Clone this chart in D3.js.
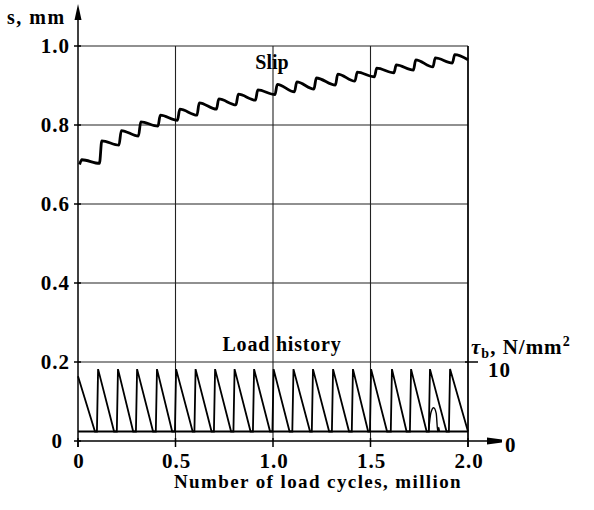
<!DOCTYPE html>
<html>
<head>
<meta charset="utf-8">
<script src="https://cdn.jsdelivr.net/npm/d3@7"></script>
<style>
  body { margin: 0; background: #fff; }
  svg { display: block; font-family: "Liberation Serif", "Times New Roman", serif; font-weight: bold; }
</style>
</head>
<body>
<svg width="594" height="510"></svg>
<script>
// Slip and load history vs. number of load cycles
const SVG = d3.select('svg');
const LEFT = 78, RIGHT = 468, TOP = 46, BOTTOM = 441;

// slip ticks (left axis) and cycle ticks (bottom axis)
const slipTicks = [0, 0.2, 0.4, 0.6, 0.8, 1.0];
const cycleTicks = [0, 0.5, 1.0, 1.5, 2.0];
const loadTicks = [0, 10];

// slip curve: start, then for each reload a trough before and a peak after the jump
const slipStart = [[0.008, 0.700], [0.02, 0.712]];
const slipJumpX = [0.11, 0.21, 0.31, 0.41, 0.51, 0.61, 0.71, 0.81, 0.91, 1.01, 1.11, 1.21, 1.32, 1.42, 1.52, 1.62, 1.72, 1.82, 1.92];
const slipBefore = [0.703, 0.749, 0.772, 0.797, 0.812, 0.825, 0.840, 0.851, 0.863, 0.877, 0.884, 0.891, 0.901, 0.911, 0.922, 0.932, 0.939, 0.947, 0.957];
const slipAfter = [0.760, 0.786, 0.808, 0.825, 0.840, 0.856, 0.866, 0.878, 0.889, 0.903, 0.909, 0.919, 0.929, 0.934, 0.944, 0.952, 0.965, 0.970, 0.978];
const slipEnd = [2.0, 0.965];

// load history (right axis, N/mm2)
const loadStart = [[0, 8.2], [0.087, 1.2]];
const loadPeakX = [0.103, 0.205, 0.303, 0.405, 0.503, 0.603, 0.703, 0.803, 0.903, 1.003, 1.105, 1.205, 1.308, 1.41, 1.503, 1.61, 1.708, 1.805, 1.908];
const loadPeak = [9.1, 9.1, 9.1, 9.1, 9.1, 9.1, 9.1, 9.1, 9.1, 9.1, 9.1, 9.1, 9.1, 9.1, 9.1, 9.1, 9.1, 9.1, 9.1];
const loadLowX = [0.185, 0.283, 0.385, 0.483, 0.588, 0.685, 0.785, 0.885, 0.985, 1.085, 1.19, 1.288, 1.39, 1.488, 1.585, 1.685, 1.788, 1.89, 2.0];
const loadMin = 1.2;
const loadHump = [[1.798, 1.2], [1.810, 3.6], [1.824, 4.2], [1.837, 3.5], [1.845, 1.2], [1.850, 1.7], [1.853, 1.2]];

const x = d3.scaleLinear().domain([0, 2]).range([LEFT, RIGHT]);
const yS = d3.scaleLinear().domain([0, 1]).range([BOTTOM, TOP]);
const yL = d3.scaleLinear().domain([0, 10]).range([BOTTOM, yS(0.2)]);

// grid
const grid = SVG.append('g').attr('stroke', '#222').attr('stroke-width', 1.1);
grid.selectAll('.h').data(slipTicks.slice(1)).enter().append('line')
    .attr('x1', LEFT).attr('x2', RIGHT)
    .attr('y1', d => yS(d)).attr('y2', d => yS(d));
grid.selectAll('.v').data(cycleTicks.slice(1)).enter().append('line')
    .attr('x1', d => x(d)).attr('x2', d => x(d))
    .attr('y1', BOTTOM).attr('y2', yS(1));

// axes
const axes = SVG.append('g').attr('stroke', '#000').attr('stroke-width', 1.5);
axes.append('line').attr('x1', LEFT).attr('x2', LEFT).attr('y1', BOTTOM + 6).attr('y2', 12);
axes.append('path').attr('d', `M${LEFT},4 L${LEFT - 3.5},20 L${LEFT + 3.5},20 Z`).attr('fill', '#000').attr('stroke', 'none');
axes.append('line').attr('x1', LEFT).attr('x2', 492).attr('y1', BOTTOM).attr('y2', BOTTOM);
axes.append('path').attr('d', `M487,${BOTTOM - 3.5} L502,${BOTTOM - 1.5} L502,${BOTTOM + 1.5} L487,${BOTTOM + 3.5} Z`).attr('fill', '#000').attr('stroke', 'none');
axes.append('line').attr('x1', RIGHT).attr('x2', RIGHT).attr('y1', BOTTOM + 6).attr('y2', yS(1));

axes.selectAll('.yt').data(slipTicks).enter().append('line')
    .attr('x1', LEFT - 4).attr('x2', LEFT + 3)
    .attr('y1', d => yS(d)).attr('y2', d => yS(d));
axes.selectAll('.xt').data(cycleTicks).enter().append('line')
    .attr('x1', d => x(d)).attr('x2', d => x(d))
    .attr('y1', BOTTOM - 3).attr('y2', BOTTOM + 6);
axes.selectAll('.rt').data(loadTicks.slice(1)).enter().append('line')
    .attr('x1', RIGHT - 3).attr('x2', RIGHT + 10)
    .attr('y1', d => yL(d)).attr('y2', d => yL(d));

// tick labels
SVG.selectAll('.yl').data(slipTicks).enter().append('text')
    .attr('x', d => d === 0 ? LEFT - 15 : LEFT - 8).attr('y', d => yS(d) + 7)
    .attr('text-anchor', 'end').style('font-size', '21px').style('letter-spacing', '1px')
    .text(d => d === 0 ? '0' : d3.format('.1f')(d));
SVG.selectAll('.xl').data(cycleTicks).enter().append('text')
    .attr('x', d => x(d) + 1).attr('y', BOTTOM + 27)
    .attr('text-anchor', 'middle').style('font-size', '21px').style('letter-spacing', '1px')
    .text(d => d === 0 ? '0' : d3.format('.1f')(d));
SVG.selectAll('.rl').data(loadTicks).enter().append('text')
    .attr('x', d => d === 0 ? 505 : 488).attr('y', d => d === 0 ? yL(d) + 11 : yL(d) + 15)
    .style('font-size', '21px').style('letter-spacing', '1px')
    .text(d => d);

// titles
SVG.append('text').attr('x', 7).attr('y', 24).style('font-size', '20px').style('letter-spacing', '1.5px').text('s, mm');
SVG.append('text').attr('x', 272).attr('y', 69).attr('text-anchor', 'middle').style('font-size', '20px').text('Slip');
SVG.append('text').attr('x', 282).attr('y', 351).attr('text-anchor', 'middle').style('font-size', '20px')
    .style('letter-spacing', '0.8px').text('Load history');
SVG.append('text').attr('x', 318).attr('y', 488).attr('text-anchor', 'middle').style('font-size', '19px')
    .style('letter-spacing', '1.4px').text('Number of load cycles, million');
const tau = SVG.append('text').attr('x', 471).attr('y', 354).style('font-size', '21px').style('letter-spacing', '1px');
tau.append('tspan').style('font-style', 'italic').text('\u03c4');
tau.append('tspan').attr('dy', 4).style('font-size', '14px').text('b');
tau.append('tspan').attr('dy', -4).text(', N/mm');
tau.append('tspan').attr('dy', -8).style('font-size', '14px').text('2');

// slip curve
const slipPts = slipStart.slice();
slipJumpX.forEach((jx, i) => {
  slipPts.push([jx, slipBefore[i]]);
  slipPts.push([jx + 0.012, slipAfter[i]]);
});
slipPts.push(slipEnd);
SVG.append('path').datum(slipPts)
    .attr('fill', 'none').attr('stroke', '#000').attr('stroke-width', 2.8).attr('stroke-linejoin', 'round')
    .attr('d', d3.line().x(d => x(d[0])).y(d => yS(d[1])).curve(d3.curveMonotoneX));

// load history
SVG.append('line').attr('x1', x(0)).attr('x2', x(2)).attr('y1', yL(loadMin)).attr('y2', yL(loadMin))
    .attr('stroke', '#000').attr('stroke-width', 1.8);
const loadPts = loadStart.slice();
loadPeakX.forEach((px, i) => {
  loadPts.push([px - 0.006, loadMin]);
  loadPts.push([px, loadPeak[i]]);
  loadPts.push([loadLowX[i], loadMin]);
});
const loadLine = d3.line().x(d => x(d[0])).y(d => yL(d[1]));
SVG.append('path').datum(loadPts)
    .attr('fill', 'none').attr('stroke', '#000').attr('stroke-width', 1.8).attr('d', loadLine);
SVG.append('path').datum(loadHump)
    .attr('fill', 'none').attr('stroke', '#000').attr('stroke-width', 1.4)
    .attr('d', loadLine.curve(d3.curveMonotoneX));
</script>
</body>
</html>
